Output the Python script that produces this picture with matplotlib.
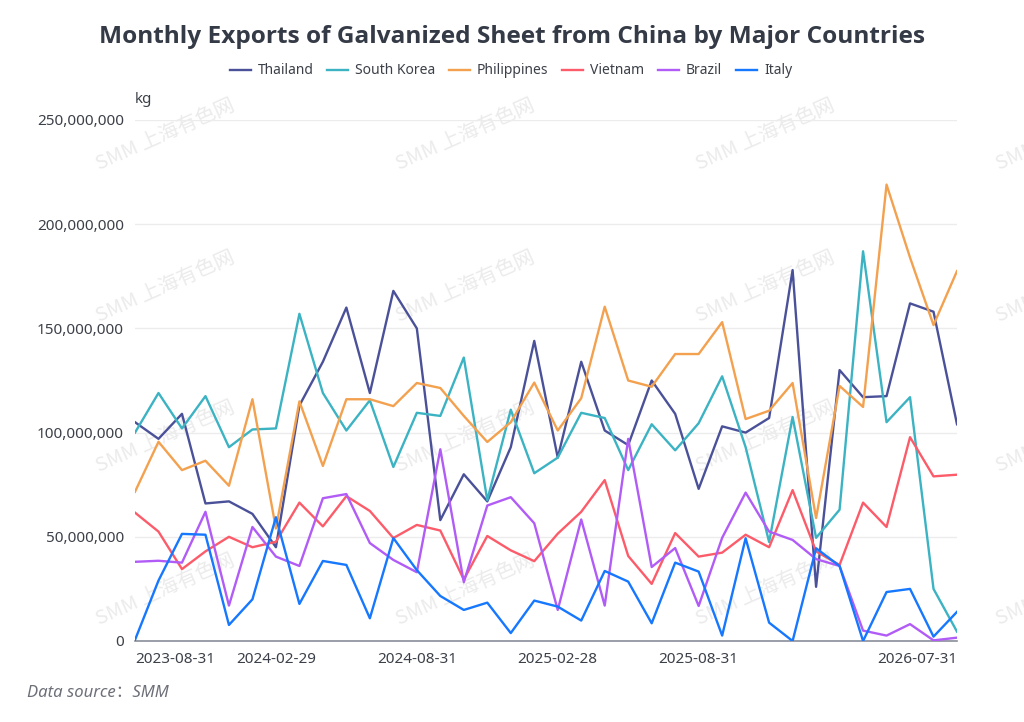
import matplotlib
matplotlib.use("Agg")
import matplotlib.pyplot as plt
import pandas as pd
from matplotlib.ticker import FuncFormatter, MultipleLocator

plt.rcParams['font.family'] = ['Noto Sans', 'Noto Sans CJK SC', 'DejaVu Sans']

# monthly, 2023-08 .. 2026-07 (36 points), values in million kg
dates = pd.date_range('2023-08-31', periods=36, freq='ME').strftime('%Y-%m-%d').tolist()

thailand = [105, 97, 109, 66, 67, 61, 45, 113, 134, 160, 119, 168, 150, 58, 80, 67, 93, 144,
            88, 134, 101, 94, 125, 109, 73, 103, 100, 107, 178, 26, 130, 117, 117.5, 162, 158, 104]
south_korea = [100, 119, 102, 117.5, 93, 101.5, 102, 157, 119, 101, 115.5, 83.5, 109.5, 108, 136, 67.6, 111, 80.5,
               88, 109.5, 107, 82, 104, 91.5, 104.5, 127, 93, 47.5, 107.5, 49.5, 63, 187, 105, 117, 25, 4.5]
philippines = [71.6, 95.6, 82, 86.5, 74.5, 116, 54, 115, 84, 116, 116, 112.7, 123.8, 121.4, 108, 95.5, 105, 124,
               101, 116.5, 160.4, 125, 122, 137.7, 137.7, 153, 106.5, 110.5, 123.8, 59, 122.4, 112.3, 219, 184, 151.6, 177.5]
vietnam = [61.6, 52.5, 34.5, 43, 50, 45, 47.6, 66.4, 55, 69.5, 62.4, 49.4, 55.7, 53, 29.5, 50.4, 43.5, 38.3,
           51.5, 62, 77.2, 40.8, 27.4, 51.8, 40.5, 42.4, 51, 45, 72.4, 43, 36.5, 66.4, 54.7, 97.8, 79, 79.8]
brazil = [38, 38.5, 37.6, 62, 17, 54.7, 40.5, 36, 68.5, 70.5, 47, 38.9, 33, 92, 28.2, 65, 69, 56.5,
          14.9, 58.3, 17, 97, 35.5, 44.6, 16.8, 49.5, 71.2, 52.5, 48.5, 39.3, 36, 5, 2.6, 8.1, 0.3, 1.6]
italy = [0.5, 29, 51.4, 51, 7.7, 20, 59.4, 17.8, 38.4, 36.5, 10.9, 49.4, 34, 21.6, 14.9, 18.4, 3.8, 19.4,
         16.5, 9.8, 33.6, 28.5, 8.5, 37.6, 33.3, 2.6, 49.3, 8.8, 0, 44.5, 36, 0, 23.5, 25, 2.1, 14]

series = ['Thailand', 'South Korea', 'Philippines', 'Vietnam', 'Brazil', 'Italy']
colors = ['#4a5199', '#3bb3c3', '#f3a14f', '#fc5c6a', '#b15cf6', '#1677ff']
values = [thailand, south_korea, philippines, vietnam, brazil, italy]

tick_idx = [0, 6, 12, 18, 24, 35]

fig = plt.figure(figsize=(10.24, 7.22), dpi=100)
ax = fig.add_axes([135 / 1024, 1 - 641 / 722, 822 / 1024, 521 / 722])

# watermark
for wx in [165, 465, 765, 1065]:
    for wy in [135, 287, 437, 590]:
        fig.text(wx / 1024, 1 - wy / 722, 'SMM 上海有色网', rotation=24, fontsize=14.5,
                 color='#ebebeb', ha='center', va='center', zorder=-1,
                 family=['Noto Sans CJK SC', 'DejaVu Sans'])

x = list(range(len(dates)))
for name, c, v in zip(series, colors, values):
    ax.plot(x, [val * 1e6 for val in v], color=c, lw=1.7, label=name, zorder=3)

ax.set_xlim(0, len(dates) - 1)
ax.set_ylim(0, 250e6)
ax.yaxis.set_major_locator(MultipleLocator(50e6))
ax.yaxis.set_major_formatter(FuncFormatter(lambda v, p: f'{int(v):,}'))
ax.grid(axis='y', color='#ececec', lw=1)
ax.set_axisbelow(True)
for s in ['top', 'right', 'left']:
    ax.spines[s].set_visible(False)
ax.spines['bottom'].set_color('#8a8e99')
ax.spines['bottom'].set_linewidth(1.2)
ax.tick_params(axis='y', length=0, pad=8, labelsize=11, labelcolor='#3c4048')
ax.tick_params(axis='x', length=0, pad=8, labelsize=11, labelcolor='#3c4048')
ax.set_xticks(tick_idx)
ax.set_xticklabels([dates[i] for i in tick_idx])
labels = ax.get_xticklabels()
labels[0].set_ha('left')
labels[-1].set_ha('right')
ax.patch.set_alpha(0)

ax.text(0.0, 1.025, 'kg', transform=ax.transAxes, fontsize=11, color='#3c4048',
        ha='left', va='bottom')

fig.text(0.5, 1 - 37 / 722, 'Monthly Exports of Galvanized Sheet from China by Major Countries',
         ha='center', va='center', fontsize=17.6, fontweight='bold', color='#343a46',
         family=['Open Sans', 'DejaVu Sans'])

fig.legend(loc='center', bbox_to_anchor=(511 / 1024, 1 - 71 / 722), ncol=6, frameon=False,
           fontsize=10, handlelength=1.5, handletextpad=0.5, columnspacing=1.0,
           labelcolor='#3c4048')

fig.text(27 / 1024, 1 - 693 / 722, 'Data source：SMM', fontsize=12, style='italic',
         color='#6e7079', ha='left', va='center')

fig.savefig('out.png', dpi=100)
